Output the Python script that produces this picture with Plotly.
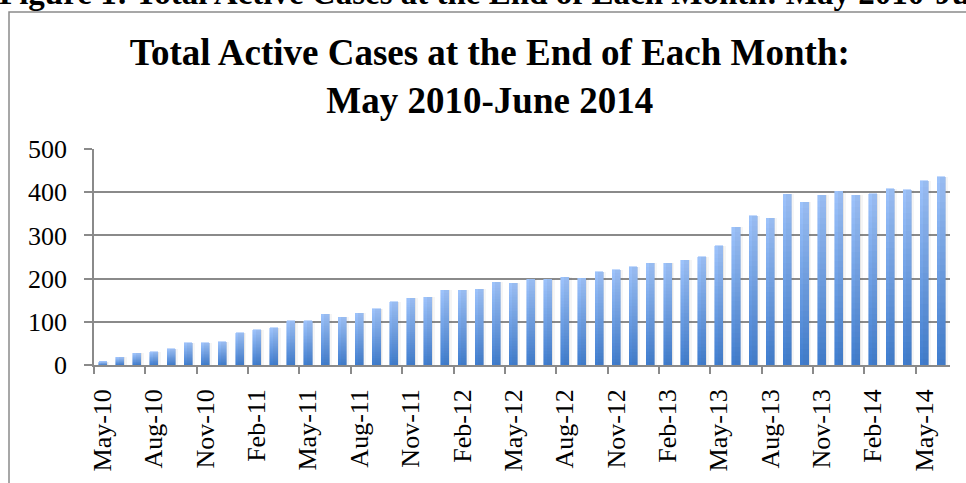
import plotly.graph_objects as go

months = ["May-10","Jun-10","Jul-10","Aug-10","Sep-10","Oct-10","Nov-10","Dec-10",
          "Jan-11","Feb-11","Mar-11","Apr-11","May-11","Jun-11","Jul-11","Aug-11","Sep-11","Oct-11","Nov-11","Dec-11",
          "Jan-12","Feb-12","Mar-12","Apr-12","May-12","Jun-12","Jul-12","Aug-12","Sep-12","Oct-12","Nov-12","Dec-12",
          "Jan-13","Feb-13","Mar-13","Apr-13","May-13","Jun-13","Jul-13","Aug-13","Sep-13","Oct-13","Nov-13","Dec-13",
          "Jan-14","Feb-14","Mar-14","Apr-14","May-14","Jun-14"]
active_cases = [8, 18, 27, 31, 38, 52, 52, 54,
                75, 82, 86, 102, 102, 118, 111, 120, 130, 146, 155, 157,
                173, 173, 175, 191, 189, 198, 198, 203, 201, 216, 221, 228,
                235, 235, 242, 251, 276, 319, 345, 340, 395, 377, 393, 402,
                393, 397, 408, 406, 427, 436]
y_ticks = [0, 100, 200, 300, 400, 500]

FONT = "Liberation Serif"
n = len(active_cases)
xs = list(range(n))
label_idx = xs[::3]
boundary_ticks = [i - 0.5 for i in label_idx]

bottom = (62, 124, 206)
top = (158, 195, 251)
K = 30

fig = go.Figure()

# soft shadow layers, each on its own overlay axis so they do not stack
for ax, off, alpha in [("x", 0.06, 0.10), ("x3", 0.17, 0.06)]:
    fig.add_trace(go.Bar(x=xs, y=active_cases, width=0.47, offset=-0.235 + off,
                         marker=dict(color=f"rgba(90,90,90,{alpha})", line=dict(width=0)),
                         xaxis=ax, yaxis="y", hoverinfo="skip", showlegend=False))

# gradient bars as stacked slices on overlay axis
for k in range(K):
    t = (k + 0.5) / K
    c = tuple(round(bottom[j] + (top[j] - bottom[j]) * t) for j in range(3))
    col = f"rgb{c}"
    fig.add_trace(go.Bar(x=xs, y=[v / K for v in active_cases], width=0.47,
                         marker=dict(color=col, line=dict(width=0.6, color=col)),
                         xaxis="x2", yaxis="y", hoverinfo="skip", showlegend=False))

hidden_axis = dict(range=[-0.5, n - 0.5], overlaying="x", anchor="y", side="bottom",
                   showticklabels=False, ticks="", showgrid=False, zeroline=False, showline=False)

fig.update_layout(
    width=966, height=483,
    margin=dict(l=94, r=16, t=149, b=115),
    paper_bgcolor="white", plot_bgcolor="white",
    barmode="stack", bargap=0.5,
    title=dict(text="<b>Total Active Cases at the End of Each Month:<br>May 2010-June 2014</b>",
               x=0.507, xref="container", xanchor="center",
               y=1 - 65 / 483, yref="container", yanchor="top",
               font=dict(family=FONT, size=37, color="black")),
    xaxis=dict(range=[-0.5, n - 0.5], tickmode="array", tickvals=label_idx,
               ticktext=[months[i] for i in label_idx], tickangle=-90,
               ticks="", showgrid=False, zeroline=False,
               showline=True, linecolor="#8a8a8a", linewidth=1.5,
               ticklabelstandoff=12,
               tickfont=dict(family=FONT, size=26, color="black")),
    xaxis2=dict(range=[-0.5, n - 0.5], overlaying="x", anchor="y", side="bottom",
                tickmode="array", tickvals=boundary_ticks, showticklabels=False,
                ticks="outside", ticklen=8, tickwidth=1.5, tickcolor="#8a8a8a",
                showgrid=False, zeroline=False, showline=False),
    xaxis3=hidden_axis,
    yaxis=dict(range=[0, 500], tickmode="array", tickvals=y_ticks,
               ticks="outside", ticklen=8, tickwidth=1.5, tickcolor="#8a8a8a",
               showgrid=True, gridcolor="#8a8a8a", gridwidth=1.5,
               zeroline=False, showline=True, linecolor="#8a8a8a", linewidth=1.5,
               ticklabelstandoff=12,
               tickfont=dict(family=FONT, size=26, color="black")),
    shapes=[dict(type="rect", xref="paper", yref="paper",
                 x0=(9 - 94) / 856, x1=1.2, y0=-1.0, y1=(368 - 10) / 219,
                 line=dict(color="#8a8a8a", width=1.5), fillcolor="rgba(0,0,0,0)",
                 layer="below")],
    annotations=[dict(text="<b>Figure 1: Total Active Cases at the End of Each Month: May 2010-June 2014</b>",
                      xref="paper", yref="paper", x=(-3 - 94) / 856, xanchor="left",
                      y=(368 - 11) / 219, yanchor="bottom", showarrow=False,
                      font=dict(family=FONT, size=33, color="black"))],
)

fig.write_html("out.html", config={"displayModeBar": False},
               post_script="document.body.style.margin='0';")
